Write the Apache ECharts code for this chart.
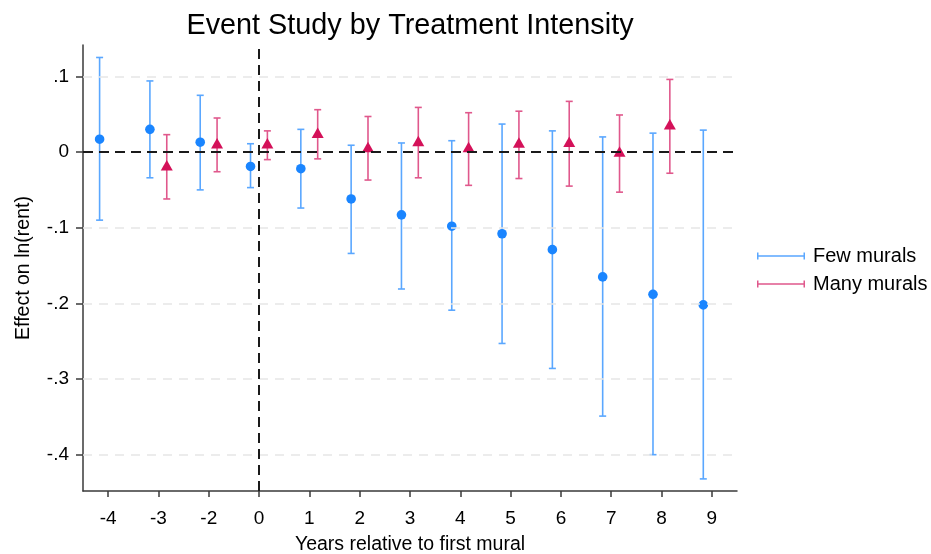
<!DOCTYPE html>
<html>
<head>
<meta charset="utf-8">
<script src="https://cdn.jsdelivr.net/npm/echarts@6/dist/echarts.min.js"></script>
<style>
  html, body { margin: 0; padding: 0; background: #fff; }
</style>
</head>
<body>
<div id="chart" style="width:931px;height:554px;"></div>
<script>
// event time categories (no -1, it is the omitted year)
const years = ['-4', '-3', '-2', '0', '1', '2', '3', '4', '5', '6', '7', '8', '9'];

// Few murals: estimate, lower and upper CI
const fewEst = [0.017, 0.030, 0.013, -0.019, -0.022, -0.062, -0.083, -0.098, -0.108, -0.129, -0.165, -0.188, -0.202];
const fewLo  = [-0.090, -0.034, -0.050, -0.047, -0.074, -0.134, -0.181, -0.209, -0.253, -0.286, -0.349, -0.400, -0.432];
const fewHi  = [0.125, 0.094, 0.075, 0.011, 0.030, 0.009, 0.012, 0.015, 0.037, 0.028, 0.020, 0.025, 0.029];

// Many murals (no estimate at -4)
const manyEst = [null, -0.019, 0.010, 0.010, 0.024, 0.005, 0.013, 0.005, 0.011, 0.012, -0.001, 0.035];
const manyLo  = [null, -0.062, -0.026, -0.010, -0.009, -0.037, -0.034, -0.044, -0.035, -0.045, -0.053, -0.028];
const manyHi  = [null, 0.023, 0.045, 0.028, 0.056, 0.047, 0.059, 0.052, 0.054, 0.067, 0.049, 0.096];

const yTicks = [0.1, 0, -0.1, -0.2, -0.3, -0.4];

function rows(est, lo, hi) {
  const out = [];
  est.forEach((v, i) => {
    if (v !== null) out.push([i, v, lo[i], hi[i]]);
  });
  return out;
}

function makeRender(offset, shape, lineColor, dotColor) {
  return function (params, api) {
    const idx = api.value(0);
    const band = api.size([1, 0])[0];
    const pt = api.coord([idx, api.value(1)]);
    const lo = api.coord([idx, api.value(2)]);
    const hi = api.coord([idx, api.value(3)]);
    const x = pt[0] + offset * band;
    const y = pt[1];
    const cap = 3.5;
    const lineStyle = { stroke: lineColor, lineWidth: 1.6 };
    const children = [
      { type: 'line', shape: { x1: x, y1: hi[1], x2: x, y2: lo[1] }, style: lineStyle },
      { type: 'line', shape: { x1: x - cap, y1: hi[1], x2: x + cap, y2: hi[1] }, style: lineStyle },
      { type: 'line', shape: { x1: x - cap, y1: lo[1], x2: x + cap, y2: lo[1] }, style: lineStyle }
    ];
    if (shape === 'circle') {
      children.push({ type: 'circle', shape: { cx: x, cy: y, r: 4.8 }, style: { fill: dotColor } });
    } else {
      children.push({
        type: 'polygon',
        shape: { points: [[x, y - 6.5], [x - 6, y + 4], [x + 6, y + 4]] },
        style: { fill: dotColor }
      });
    }
    return { type: 'group', children: children };
  };
}

const legendIcon = 'path://M0,0h1.5v7h-1.5z M0,2.75h48v1.5h-48z M46.5,0h1.5v7h-1.5z';
const font = 'Liberation Sans';

const option = {
  animation: false,
  backgroundColor: '#fff',
  textStyle: { fontFamily: font },
  title: {
    text: 'Event Study by Treatment Intensity',
    left: 405,
    textAlign: 'center',
    top: 7,
    textStyle: { fontFamily: font, fontSize: 28.8, fontWeight: 'normal', color: '#000' }
  },
  legend: {
    orient: 'vertical',
    left: 752,
    top: 241,
    itemWidth: 48,
    itemHeight: 7,
    itemGap: 8,
    icon: legendIcon,
    data: ['Few murals', 'Many murals'],
    textStyle: { fontFamily: font, fontSize: 20, color: '#000', padding: [0, 0, 0, 3] }
  },
  grid: { left: 83, right: 194, top: 45, bottom: 63, containLabel: false, outerBoundsMode: 'none' },
  xAxis: {
    type: 'category',
    data: years,
    boundaryGap: true,
    name: 'Years relative to first mural',
    nameLocation: 'middle',
    nameGap: 44,
    nameTextStyle: { fontFamily: font, fontSize: 19.5, color: '#000', verticalAlign: 'top' },
    axisLine: { onZero: false, lineStyle: { color: '#3a3a3a', width: 1.5 } },
    axisTick: { show: true, alignWithLabel: true, length: 6, lineStyle: { color: '#3a3a3a', width: 1.5 } },
    axisLabel: { fontFamily: font, fontSize: 19, color: '#000', margin: 18 },
    splitLine: { show: false }
  },
  yAxis: {
    type: 'value',
    min: -0.448,
    max: 0.1415,
    name: 'Effect on ln(rent)',
    nameLocation: 'middle',
    nameGap: 49,
    nameTextStyle: { fontFamily: font, fontSize: 19.5, color: '#000' },
    axisLine: { show: true, onZero: false, lineStyle: { color: '#3a3a3a', width: 1.5 } },
    axisTick: { show: true, length: 7, customValues: yTicks, lineStyle: { color: '#3a3a3a', width: 1.5 } },
    axisLabel: {
      customValues: yTicks,
      fontFamily: font, fontSize: 19, color: '#000', margin: 14,
      formatter: v => {
        if (Math.abs(v) < 1e-9) return '0';
        return (v < 0 ? '-' : '') + Math.abs(v).toFixed(1).replace(/^0/, '');
      }
    },
    splitLine: { show: false }
  },
  series: [
    {
      name: 'refs',
      type: 'line',
      data: [],
      z: 1,
      silent: true,
      markLine: {
        symbol: 'none',
        silent: true,
        label: { show: false },
        data: [
          ...yTicks.filter(v => v !== 0).map(v => ({
            yAxis: v,
            lineStyle: { color: '#e6e6e6', type: [9, 7], width: 1.5 }
          })),
          { yAxis: 0, lineStyle: { color: '#1a1a1a', type: [10, 6], width: 2 } },
          { xAxis: '0', lineStyle: { color: '#1a1a1a', type: [10, 6], width: 2 } }
        ]
      }
    },
    {
      name: 'Few murals',
      type: 'custom',
      z: 3,
      itemStyle: { color: '#5aa7ff' },
      encode: { x: 0, y: [1, 2, 3] },
      data: rows(fewEst, fewLo, fewHi),
      renderItem: makeRender(-0.17, 'circle', '#5aa7ff', '#1a85ff')
    },
    {
      name: 'Many murals',
      type: 'custom',
      z: 3,
      itemStyle: { color: '#e0588c' },
      encode: { x: 0, y: [1, 2, 3] },
      data: rows(manyEst, manyLo, manyHi),
      renderItem: makeRender(0.165, 'triangle', '#e0588c', '#d41159')
    }
  ]
};

const chart = echarts.init(document.getElementById('chart'));
chart.setOption(option);
</script>
</body>
</html>
